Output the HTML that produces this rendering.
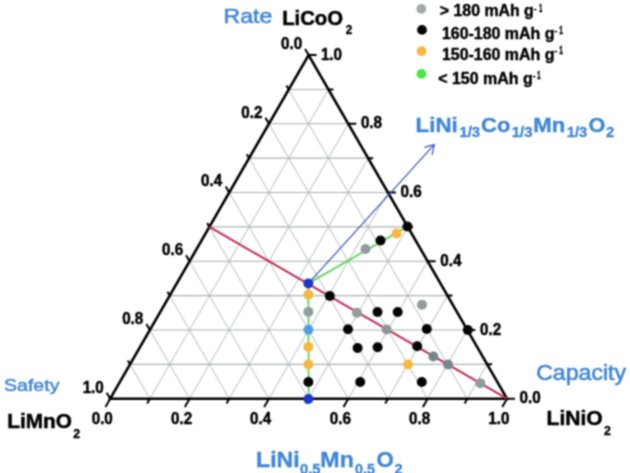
<!DOCTYPE html><html><head><meta charset="utf-8"><style>html,body{margin:0;padding:0;background:#fff;overflow:hidden}svg{display:block}text{font-family:"Liberation Sans",Arial,sans-serif}</style></head><body>
<svg width="630" height="473" viewBox="0 0 630 473">
<defs><filter id="bl" filterUnits="userSpaceOnUse" x="0" y="0" width="630" height="473" color-interpolation-filters="sRGB"><feConvolveMatrix order="3" kernelMatrix="1 2 1 2 4 2 1 2 1" divisor="16" edgeMode="duplicate"/></filter></defs>
<g filter="url(#bl)"><rect width="630" height="473" fill="#fff"/>
<path d="M149.88 398.70L328.44 89.43M467.32 398.70L288.76 89.43M189.56 398.70L348.28 123.79M427.64 398.70L268.92 123.79M229.24 398.70L368.12 158.15M387.96 398.70L249.08 158.15M268.92 398.70L387.96 192.52M348.28 398.70L229.24 192.52M308.60 398.70L407.80 226.88M308.60 398.70L209.40 226.88M348.28 398.70L427.64 261.24M268.92 398.70L189.56 261.24M387.96 398.70L447.48 295.61M229.24 398.70L169.72 295.61M427.64 398.70L467.32 329.97M189.56 398.70L149.88 329.97M467.32 398.70L487.16 364.34M149.88 398.70L130.04 364.34" stroke="#b4bcbc" stroke-width="1.0" fill="none"/>
<path d="M130.04 364.34L487.16 364.34M149.88 329.97L467.32 329.97M169.72 295.61L447.48 295.61M189.56 261.24L427.64 261.24M209.40 226.88L407.80 226.88M229.24 192.52L387.96 192.52M249.08 158.15L368.12 158.15M268.92 123.79L348.28 123.79M288.76 89.43L328.44 89.43" stroke="#aab3b2" stroke-width="1.1" fill="none"/>
<path d="M308.60 55.06L305.10 49.00M507.00 398.70L515.00 398.70M110.20 398.70L105.45 406.93M288.76 89.43L286.51 85.53M487.16 364.34L492.16 364.34M149.88 398.70L147.13 403.46M268.92 123.79L265.42 117.73M467.32 329.97L475.32 329.97M189.56 398.70L184.81 406.93M249.08 158.15L246.83 154.26M447.48 295.61L452.48 295.61M229.24 398.70L226.49 403.46M229.24 192.52L225.74 186.45M427.64 261.24L435.64 261.24M268.92 398.70L264.17 406.93M209.40 226.88L207.15 222.98M407.80 226.88L412.80 226.88M308.60 398.70L305.85 403.46M189.56 261.24L186.06 255.18M387.96 192.52L395.96 192.52M348.28 398.70L343.53 406.93M169.72 295.61L167.47 291.71M368.12 158.15L373.12 158.15M387.96 398.70L385.21 403.46M149.88 329.97L146.38 323.91M348.28 123.79L356.28 123.79M427.64 398.70L422.89 406.93M130.04 364.34L127.79 360.44M328.44 89.43L333.44 89.43M467.32 398.70L464.57 403.46M110.20 398.70L106.70 392.64M308.60 55.06L316.60 55.06M507.00 398.70L502.25 406.93" stroke="#000" stroke-width="2" fill="none"/>
<path d="M308.60 55.06L110.20 398.70L507.00 398.70Z" stroke="#000" stroke-width="2.6" fill="none" stroke-linejoin="miter"/>
<text transform="translate(281.02 49.02) scale(0.8801 1)" font-size="17.30" font-weight="bold" stroke="#000" stroke-width="0.51">0.0</text>
<text transform="translate(519.62 403.27) scale(0.8801 1)" font-size="17.30" font-weight="bold" stroke="#000" stroke-width="0.51">0.0</text>
<text transform="translate(91.67 424.10) scale(0.8801 1)" font-size="17.30" font-weight="bold" stroke="#000" stroke-width="0.51">0.0</text>
<text transform="translate(241.34 117.75) scale(0.8801 1)" font-size="17.30" font-weight="bold" stroke="#000" stroke-width="0.51">0.2</text>
<text transform="translate(479.94 334.55) scale(0.8801 1)" font-size="17.30" font-weight="bold" stroke="#000" stroke-width="0.51">0.2</text>
<text transform="translate(171.03 424.10) scale(0.8801 1)" font-size="17.30" font-weight="bold" stroke="#000" stroke-width="0.51">0.2</text>
<text transform="translate(201.04 186.48) scale(0.8807 1)" font-size="17.30" font-weight="bold" stroke="#000" stroke-width="0.51">0.4</text>
<text transform="translate(440.26 265.82) scale(0.8807 1)" font-size="17.30" font-weight="bold" stroke="#000" stroke-width="0.51">0.4</text>
<text transform="translate(250.08 424.10) scale(0.8807 1)" font-size="17.30" font-weight="bold" stroke="#000" stroke-width="0.51">0.4</text>
<text transform="translate(161.98 255.21) scale(0.8801 1)" font-size="17.30" font-weight="bold" stroke="#000" stroke-width="0.51">0.6</text>
<text transform="translate(400.58 197.09) scale(0.8801 1)" font-size="17.30" font-weight="bold" stroke="#000" stroke-width="0.51">0.6</text>
<text transform="translate(329.75 424.10) scale(0.8801 1)" font-size="17.30" font-weight="bold" stroke="#000" stroke-width="0.51">0.6</text>
<text transform="translate(122.14 323.94) scale(0.8803 1)" font-size="17.30" font-weight="bold" stroke="#000" stroke-width="0.51">0.8</text>
<text transform="translate(360.90 128.36) scale(0.8803 1)" font-size="17.30" font-weight="bold" stroke="#000" stroke-width="0.51">0.8</text>
<text transform="translate(409.03 424.10) scale(0.8803 1)" font-size="17.30" font-weight="bold" stroke="#000" stroke-width="0.51">0.8</text>
<text transform="translate(82.63 392.66) scale(0.8798 1)" font-size="17.30" font-weight="bold" stroke="#000" stroke-width="0.51">1.0</text>
<text transform="translate(320.91 59.64) scale(0.8798 1)" font-size="17.30" font-weight="bold" stroke="#000" stroke-width="0.51">1.0</text>
<text transform="translate(488.32 424.10) scale(0.8798 1)" font-size="17.30" font-weight="bold" stroke="#000" stroke-width="0.51">1.0</text>
<line x1="209.40" y1="226.88" x2="507.00" y2="398.70" stroke="#c8284f" stroke-width="2.0"/>
<line x1="308.60" y1="398.70" x2="308.40" y2="283.40" stroke="#5cd65a" stroke-width="1.8"/>
<line x1="308.40" y1="283.40" x2="407.50" y2="226.60" stroke="#5cd65a" stroke-width="1.8"/>
<line x1="308.40" y1="283.40" x2="434.20" y2="144.70" stroke="#3553c4" stroke-width="1.2"/>
<path d="M424.3 147.3L434.2 144.7L432.1 154.8" stroke="#3553c4" stroke-width="1.2" fill="none"/>
<circle cx="308.40" cy="399.00" r="5" fill="#1c38cc"/>
<circle cx="308.40" cy="382.00" r="5" fill="#050505"/>
<circle cx="308.40" cy="364.40" r="5" fill="#f7b840"/>
<circle cx="308.40" cy="346.90" r="5" fill="#f7b840"/>
<circle cx="308.40" cy="329.70" r="5" fill="#4d9fe6"/>
<circle cx="308.40" cy="311.90" r="5" fill="#929c9c"/>
<circle cx="308.40" cy="294.60" r="5" fill="#f7b840"/>
<circle cx="308.40" cy="283.40" r="5" fill="#1c38cc"/>
<circle cx="365.50" cy="249.00" r="5" fill="#929c9c"/>
<circle cx="380.50" cy="240.50" r="5" fill="#050505"/>
<circle cx="396.50" cy="233.50" r="5" fill="#f7b840"/>
<circle cx="407.50" cy="226.50" r="5" fill="#050505"/>
<circle cx="329.80" cy="296.00" r="5" fill="#050505"/>
<circle cx="357.00" cy="312.80" r="5" fill="#929c9c"/>
<circle cx="377.50" cy="312.00" r="5" fill="#050505"/>
<circle cx="397.70" cy="312.00" r="5" fill="#050505"/>
<circle cx="422.00" cy="304.80" r="5" fill="#929c9c"/>
<circle cx="348.00" cy="329.20" r="5" fill="#050505"/>
<circle cx="386.60" cy="329.50" r="5" fill="#8a9899"/>
<circle cx="426.80" cy="329.00" r="5" fill="#050505"/>
<circle cx="467.80" cy="330.00" r="5" fill="#050505"/>
<circle cx="357.60" cy="348.00" r="5" fill="#050505"/>
<circle cx="377.60" cy="347.20" r="5" fill="#050505"/>
<circle cx="417.20" cy="346.20" r="5" fill="#050505"/>
<circle cx="433.40" cy="356.50" r="5" fill="#728890"/>
<circle cx="408.00" cy="364.40" r="5" fill="#f7b840"/>
<circle cx="448.00" cy="364.50" r="5" fill="#728890"/>
<circle cx="360.20" cy="382.00" r="5" fill="#050505"/>
<circle cx="421.80" cy="382.00" r="5" fill="#050505"/>
<circle cx="480.40" cy="383.20" r="5" fill="#929c9c"/>
<circle cx="421.3" cy="8.9" r="4.9" fill="#a1a9a9"/>
<circle cx="422.0" cy="29.9" r="4.9" fill="#050505"/>
<circle cx="421.6" cy="51.2" r="4.9" fill="#f7b840"/>
<circle cx="421.4" cy="73.9" r="4.9" fill="#47e647"/>
<text transform="translate(439.87 16.00) scale(0.9918 1)" font-size="16.00" font-weight="bold" stroke="#000" stroke-width="0.40">&gt; 180 mAh g</text>
<text transform="translate(533.40 12.00) scale(0.9524 1)" font-size="10.50" font-weight="bold">-</text>
<text transform="translate(539.33 11.85) scale(0.5215 1)" font-size="10.20" font-weight="bold" stroke="#000" stroke-width="0.58">1</text>
<text transform="translate(441.94 38.80) scale(0.9966 1)" font-size="16.00" font-weight="bold" stroke="#000" stroke-width="0.40">160-180 mAh g</text>
<text transform="translate(554.07 34.00) scale(1.0286 1)" font-size="10.50" font-weight="bold">-</text>
<text transform="translate(559.35 33.85) scale(0.6466 1)" font-size="10.20" font-weight="bold" stroke="#000" stroke-width="0.46">1</text>
<text transform="translate(441.94 59.50) scale(0.9966 1)" font-size="16.00" font-weight="bold" stroke="#000" stroke-width="0.40">150-160 mAh g</text>
<text transform="translate(554.07 54.30) scale(1.0286 1)" font-size="10.50" font-weight="bold">-</text>
<text transform="translate(559.35 54.15) scale(0.6466 1)" font-size="10.20" font-weight="bold" stroke="#000" stroke-width="0.46">1</text>
<text transform="translate(438.16 83.60) scale(0.9994 1)" font-size="16.00" font-weight="bold" stroke="#000" stroke-width="0.40">&lt; 150 mAh g</text>
<text transform="translate(532.48 78.80) scale(0.9905 1)" font-size="10.50" font-weight="bold">-</text>
<text transform="translate(537.21 78.65) scale(0.5632 1)" font-size="10.20" font-weight="bold" stroke="#000" stroke-width="0.53">1</text>
<text transform="translate(223.55 22.60) scale(1.1197 1)" font-size="20.60" fill="#3f86d8" stroke="#3f86d8" stroke-width="0.54">Rate</text>
<text transform="translate(536.14 379.90) scale(1.0608 1)" font-size="21.80" fill="#3f86d8" stroke="#3f86d8" stroke-width="0.57">Capacity</text>
<text transform="translate(4.07 390.95) scale(1.1226 1)" font-size="17.40" fill="#3f86d8" stroke="#3f86d8" stroke-width="0.45">Safety</text>
<text transform="translate(282.13 25.15) scale(0.9860 1)" font-size="20.60" font-weight="bold" stroke="#000" stroke-width="0.51">LiCoO</text>
<text transform="translate(345.65 34.00) scale(0.8746 1)" font-size="13.30" font-weight="bold" stroke="#000" stroke-width="0.46">2</text>
<text transform="translate(7.30 427.85) scale(1.0130 1)" font-size="20.50" font-weight="bold" stroke="#000" stroke-width="0.49">LiMnO</text>
<text transform="translate(73.13 437.70) scale(0.9207 1)" font-size="13.30" font-weight="bold" stroke="#000" stroke-width="0.43">2</text>
<text transform="translate(546.58 425.35) scale(1.0124 1)" font-size="20.80" font-weight="bold" stroke="#000" stroke-width="0.49">LiNiO</text>
<text transform="translate(604.03 434.80) scale(0.9207 1)" font-size="13.30" font-weight="bold" stroke="#000" stroke-width="0.43">2</text>
<text transform="translate(415.61 131.72) scale(1.0626 1)" font-size="21.00" font-weight="bold" fill="#3f86d8" stroke="#3f86d8" stroke-width="0.33">LiNi</text>
<text transform="translate(459.38 137.12) scale(1.0757 1)" font-size="13.80" font-weight="bold" fill="#3f86d8" stroke="#3f86d8" stroke-width="0.33">1/3</text>
<text transform="translate(481.10 131.72) scale(1.0457 1)" font-size="21.00" font-weight="bold" fill="#3f86d8" stroke="#3f86d8" stroke-width="0.33">Co</text>
<text transform="translate(511.77 137.12) scale(1.0870 1)" font-size="13.80" font-weight="bold" fill="#3f86d8" stroke="#3f86d8" stroke-width="0.32">1/3</text>
<text transform="translate(533.32 131.72) scale(1.0560 1)" font-size="21.00" font-weight="bold" fill="#3f86d8" stroke="#3f86d8" stroke-width="0.33">Mn</text>
<text transform="translate(566.79 137.12) scale(1.0645 1)" font-size="13.80" font-weight="bold" fill="#3f86d8" stroke="#3f86d8" stroke-width="0.33">1/3</text>
<text transform="translate(588.61 131.72) scale(1.0306 1)" font-size="21.00" font-weight="bold" fill="#3f86d8" stroke="#3f86d8" stroke-width="0.34">O</text>
<text transform="translate(606.03 137.12) scale(1.0722 1)" font-size="13.80" font-weight="bold" fill="#3f86d8" stroke="#3f86d8" stroke-width="0.33">2</text>
<text transform="translate(256.06 466.82) scale(1.0675 1)" font-size="21.60" font-weight="bold" fill="#3f86d8" stroke="#3f86d8" stroke-width="0.33">LiNi</text>
<text transform="translate(299.98 473.72) scale(1.0007 1)" font-size="14.80" font-weight="bold" fill="#3f86d8" stroke="#3f86d8" stroke-width="0.35">0.5</text>
<text transform="translate(320.35 466.82) scale(1.0726 1)" font-size="21.60" font-weight="bold" fill="#3f86d8" stroke="#3f86d8" stroke-width="0.33">Mn</text>
<text transform="translate(355.00 473.72) scale(0.9649 1)" font-size="14.80" font-weight="bold" fill="#3f86d8" stroke="#3f86d8" stroke-width="0.36">0.5</text>
<text transform="translate(376.59 466.82) scale(1.0284 1)" font-size="21.60" font-weight="bold" fill="#3f86d8" stroke="#3f86d8" stroke-width="0.34">O</text>
<text transform="translate(394.44 473.72) scale(0.9859 1)" font-size="14.80" font-weight="bold" fill="#3f86d8" stroke="#3f86d8" stroke-width="0.35">2</text>
</g></svg></body></html>
